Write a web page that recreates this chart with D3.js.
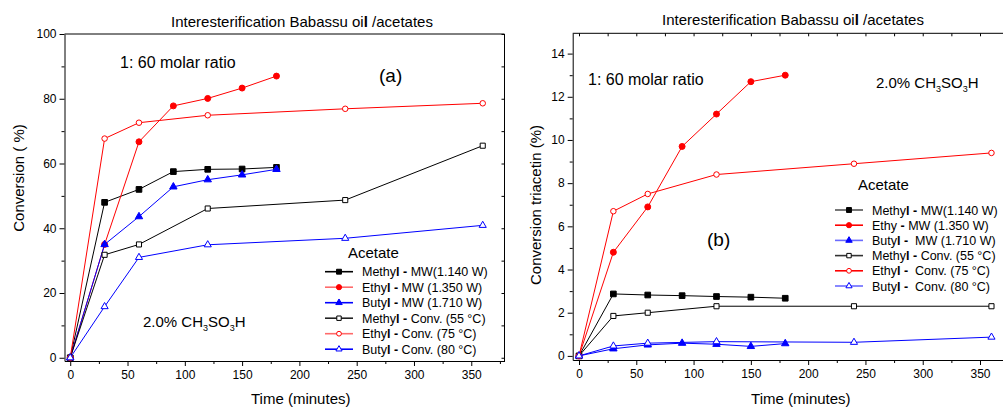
<!DOCTYPE html>
<html>
<head>
<meta charset="utf-8">
<script src="https://cdn.jsdelivr.net/npm/d3@7"></script>
<style>
  body { margin: 0; background: #fff; }
  svg { font-family: "Liberation Sans", Arial, sans-serif; }
  text { white-space: pre; }
  .domain { stroke: #000; }
  .tick line { stroke: #000; }
</style>
</head>
<body>
<div id="chart"></div>
<script>
var W = 1003, H = 410;

// time points (minutes)
var timesMW = [0, 30, 60, 90, 120, 150, 180];
var timesConv = [0, 30, 60, 120, 240, 360];

// panel (a) conversion (%)
var aMethylMW = [0, 48, 52, 57.5, 58.2, 58.3, 58.8];
var aEthylMW = [0, 35, 66.7, 77.8, 80.1, 83.3, 87];
var aButylMW = [0, 35, 43.6, 52.8, 55, 56.5, 58.2];
var aMethylConv = [0, 31.8, 35, 46.1, 48.7, 65.5];
var aEthylConv = [0, 67.7, 72.6, 74.9, 76.9, 78.6];
var aButylConv = [0, 15.8, 31, 34.9, 36.9, 40.9];

// panel (b) conversion triacetin (%)
var bMethylMW = [0, 2.87, 2.82, 2.79, 2.75, 2.72, 2.67];
var bEthylMW = [0, 4.8, 6.9, 9.7, 11.2, 12.7, 13.0];
var bButylMW = [0, 0.33, 0.51, 0.59, 0.54, 0.44, 0.57];
var bMethylConv = [0, 1.85, 2.0, 2.3, 2.3, 2.3];
var bEthylConv = [0, 6.7, 7.5, 8.4, 8.9, 9.4];
var bButylConv = [0, 0.46, 0.59, 0.66, 0.63, 0.87];

var legendA = ["Methyl - MW(1.140 W)", "Ethyl - MW (1.350 W)", "Butyl - MW (1.710 W)",
  "Methyl - Conv. (55 °C)", "Ethyl - Conv. (75 °C)", "Butyl - Conv. (80 °C)"];
var legendB = ["Methyl - MW(1.140 W)", "Ethy - MW (1.350 W)", "Butyl -  MW (1.710 W)",
  "Methyl - Conv. (55 °C)", "Ethyl -  Conv. (75 °C)", "Butyl -  Conv. (80 °C)"];

var xTicks = [0, 50, 100, 150, 200, 250, 300, 350];
var xMinor = [25, 75, 125, 175, 225, 275, 325, 375];
var aYTicks = [0, 20, 40, 60, 80, 100];
var aYMinor = [10, 30, 50, 70, 90];
var bYTicks = [0, 2, 4, 6, 8, 10, 12, 14];
var bYMinor = [1, 3, 5, 7, 9, 11, 13];

var seriesStyle = [
  { color: "#000", shape: d3.symbolSquare, filled: true, size: 32 },
  { color: "#ff0000", shape: d3.symbolCircle, filled: true, size: 28 },
  { color: "#0000ff", shape: d3.symbolTriangle, filled: true, size: 24 },
  { color: "#000", shape: d3.symbolSquare, filled: false, size: 26 },
  { color: "#ff0000", shape: d3.symbolCircle, filled: false, size: 24 },
  { color: "#0000ff", shape: d3.symbolTriangle, filled: false, size: 22 }
];

var svg = d3.select("#chart").append("svg").attr("width", W).attr("height", H);

function drawPanel(opt) {
  var x = d3.scaleLinear().domain(opt.xDomain).range(opt.xRange);
  var y = d3.scaleLinear().domain(opt.yDomain).range(opt.yRange);
  var g = svg.append("g");
  var x0 = opt.xRange[0], x1 = opt.xRange[1], y0 = opt.yRange[0], y1 = opt.yRange[1];

  // axes
  g.append("g").attr("transform", "translate(0," + y0 + ")")
    .call(d3.axisBottom(x).tickValues(xTicks).tickSize(5).tickSizeOuter(0).tickPadding(4))
    .call(function(s){ s.selectAll("text").attr("font-size", 12).attr("fill", "#000").attr("font-family", null); });
  g.append("g").attr("transform", "translate(0," + y0 + ")")
    .call(d3.axisBottom(x).tickValues(xMinor.filter(function(v){ return x(v) < x1; })).tickSize(3).tickFormat(""))
    .call(function(s){ s.select(".domain").remove(); });
  g.append("g").attr("transform", "translate(" + x0 + ",0)")
    .call(d3.axisLeft(y).tickValues(opt.yTicks).tickSize(5).tickSizeOuter(0).tickPadding(3))
    .call(function(s){ s.selectAll("text").attr("font-size", 12).attr("fill", "#000").attr("font-family", null); });
  g.append("g").attr("transform", "translate(" + x0 + ",0)")
    .call(d3.axisLeft(y).tickValues(opt.yMinor).tickSize(3).tickFormat(""))
    .call(function(s){ s.select(".domain").remove(); });

  // frame
  g.append("line").attr("x1", x0).attr("x2", x1).attr("y1", y1).attr("y2", y1).attr("stroke", "#000");
  if (opt.rightFrame) {
    g.append("line").attr("x1", x1).attr("x2", x1).attr("y1", y1).attr("y2", y0).attr("stroke", "#000");
    g.append("g").attr("transform", "translate(" + x1 + ",0)")
      .call(d3.axisLeft(y).tickValues(opt.yTicks.concat(opt.yMinor)).tickSize(3).tickFormat(""))
      .call(function(s){ s.select(".domain").remove(); });
  }
  if (opt.topTicks) {
    g.append("g").attr("transform", "translate(0," + y1 + ")")
      .call(d3.axisBottom(x).tickValues(xTicks.concat(xMinor).filter(function(v){ return x(v) < x1 - 2; })).tickSize(3).tickFormat(""))
      .call(function(s){ s.select(".domain").remove(); });
  }

  // series
  var line = d3.line().x(function(d){ return x(d[0]); }).y(function(d){ return y(d[1]); });
  opt.series.forEach(function(vals, i) {
    var st = seriesStyle[i];
    var times = i < 3 ? timesMW : timesConv;
    var pts = vals.map(function(v, j){ return [times[j], v]; });
    g.append("path").datum(pts).attr("d", line).attr("fill", "none")
      .attr("stroke", st.color).attr("stroke-width", 1);
    g.selectAll(null).data(pts).enter().append("path")
      .attr("d", d3.symbol().type(st.shape).size(st.size))
      .attr("transform", function(d){ return "translate(" + x(d[0]) + "," + y(d[1]) + ")"; })
      .attr("fill", st.filled ? st.color : "#fff")
      .attr("stroke", st.color).attr("stroke-width", 1);
  });

  // legend
  var lg = g.append("g");
  lg.append("text").attr("x", opt.legend.titleX).attr("y", opt.legend.titleY)
    .attr("font-size", 15).text("Acetate");
  opt.legend.labels.forEach(function(lab, i) {
    var st = seriesStyle[i];
    var ry = opt.legend.y + i * opt.legend.dy;
    var lx = opt.legend.x;
    lg.append("line").attr("x1", lx).attr("x2", lx + 28).attr("y1", ry).attr("y2", ry)
      .attr("stroke", opt.legend.colors[i]).attr("stroke-width", 1.6);
    lg.append("path").attr("d", d3.symbol().type(st.shape).size(st.size * 0.75))
      .attr("transform", "translate(" + (lx + 14) + "," + ry + ")")
      .attr("fill", st.filled ? st.color : "#fff").attr("stroke", st.color);
    var idx = lab.indexOf(" -");
    var s = lab.charAt(idx - 1) === "l" ? idx - 1 : idx + 1;
    var t = lg.append("text").attr("x", lx + 37).attr("y", ry + 4.5).attr("font-size", 12.5);
    t.append("tspan").text(lab.slice(0, s));
    t.append("tspan").attr("font-weight", "bold").text(lab.slice(s, idx + 2));
    t.append("tspan").text(lab.slice(idx + 2));
  });

  // titles
  var tt = g.append("text").attr("x", opt.titleX).attr("y", opt.titleY)
    .attr("text-anchor", "middle").attr("font-size", 15);
  tt.append("tspan").text("Interesterification Babassu oi");
  tt.append("tspan").attr("font-weight", "bold").text("l");
  tt.append("tspan").text(" /acetates");

  g.append("text").attr("x", (x0 + opt.xLabelRight) / 2).attr("y", 404)
    .attr("text-anchor", "middle").attr("font-size", 15).text("Time (minutes)");
  g.append("text").attr("transform", "translate(" + opt.yLabelX + "," + opt.yLabelY + ") rotate(-90)")
    .attr("text-anchor", "middle").attr("font-size", 15).text(opt.yLabel);

  g.append("text").attr("x", opt.ratio[0]).attr("y", opt.ratio[1]).attr("font-size", 16).text("1: 60 molar ratio");
  g.append("text").attr("x", opt.tag[0]).attr("y", opt.tag[1]).attr("font-size", 19).text(opt.tagText);

  var ct = g.append("text").attr("x", opt.cat[0]).attr("y", opt.cat[1]).attr("font-size", 15);
  ct.append("tspan").text("2.0% CH");
  ct.append("tspan").attr("font-size", 9).attr("dy", 4).text("3");
  ct.append("tspan").attr("dy", -4).text("SO");
  ct.append("tspan").attr("font-size", 9).attr("dy", 4).text("3");
  ct.append("tspan").attr("dy", -4).text("H");
}

drawPanel({
  xDomain: [-5, 379], xRange: [64.5, 504.5],
  yDomain: [-1, 100], yRange: [361, 34],
  yTicks: aYTicks, yMinor: aYMinor,
  rightFrame: true, topTicks: false,
  series: [aMethylMW, aEthylMW, aButylMW, aMethylConv, aEthylConv, aButylConv],
  legend: { x: 325, y: 271.7, dy: 15.5, titleX: 348, titleY: 258, labels: legendA,
    colors: ["#000", "#ff6a6a", "#0000ff", "#222", "#ff6a6a", "#0000ff"] },
  titleX: 302, titleY: 27,
  xLabelRight: 537, yLabelX: 24, yLabelY: 178, yLabel: "Conversion ( %)",
  ratio: [120, 68], tag: [379, 82], tagText: "(a)", cat: [143, 327]
});

drawPanel({
  xDomain: [-5.5, 370.5], xRange: [572.7, 1003.5],
  yDomain: [-0.19, 14.94], yRange: [360, 33.3],
  yTicks: bYTicks, yMinor: bYMinor,
  rightFrame: false, topTicks: true,
  series: [bMethylMW, bEthylMW, bButylMW, bMethylConv, bEthylConv, bButylConv],
  legend: { x: 835, y: 210, dy: 15.2, titleX: 858, titleY: 190, labels: legendB,
    colors: ["#555", "#ff0000", "#6a6aff", "#333", "#ff0000", "#6a6aff"] },
  titleX: 793, titleY: 25,
  xLabelRight: 1029, yLabelX: 541, yLabelY: 205, yLabel: "Conversion triacetin (%)",
  ratio: [588, 85], tag: [707, 246], tagText: "(b)", cat: [876, 88]
});
</script>
</body>
</html>
